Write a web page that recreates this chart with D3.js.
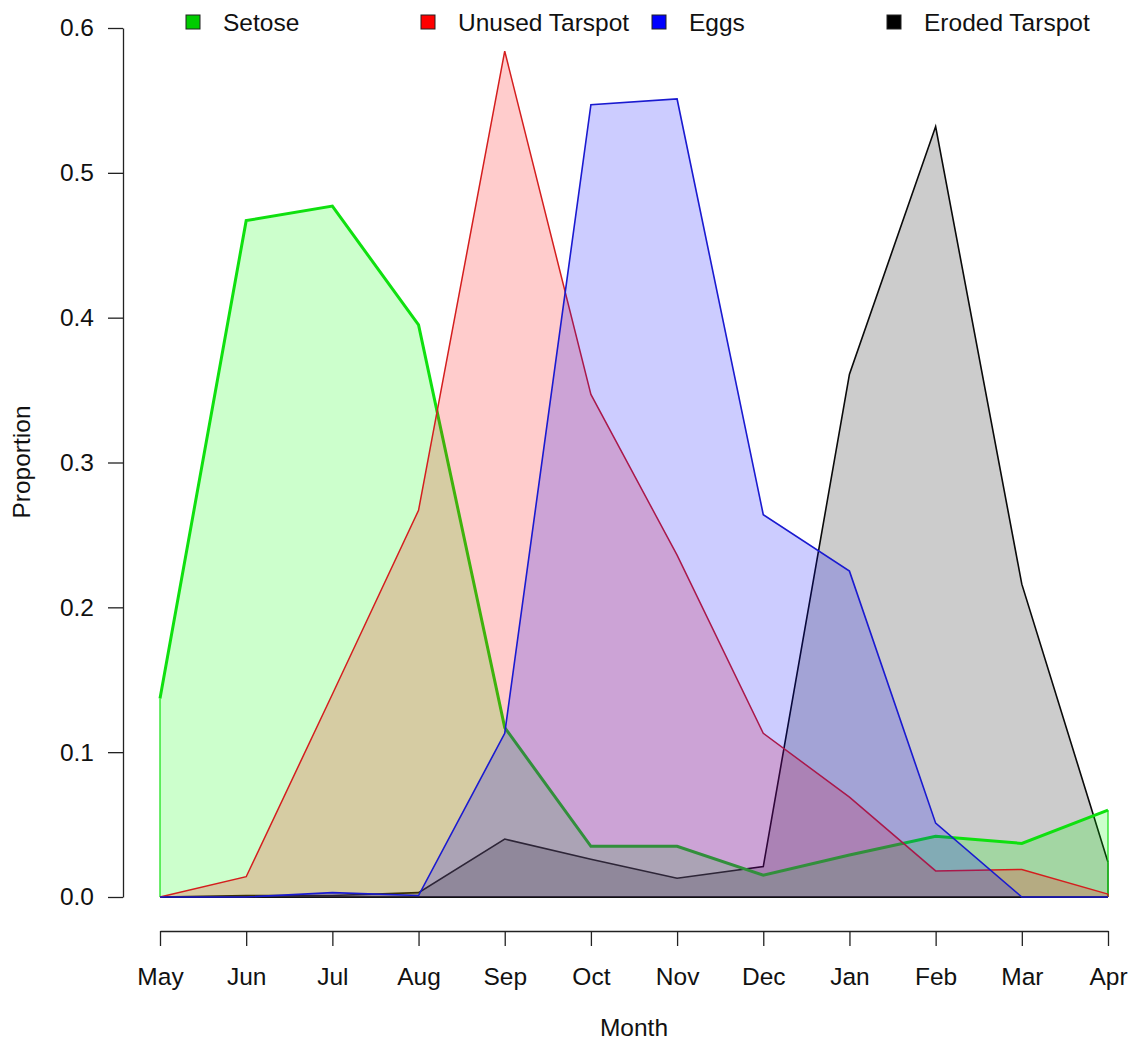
<!DOCTYPE html>
<html>
<head>
<meta charset="utf-8">
<script src="https://cdn.jsdelivr.net/npm/d3@7"></script>
<style>
  html, body { margin: 0; padding: 0; background: #fff; }
  svg { display: block; font-family: "Liberation Sans", Arial, sans-serif; }
</style>
</head>
<body>
<svg id="chart" width="1130" height="1043"></svg>
<script>
// Monthly proportions of each stage
const months = ["May", "Jun", "Jul", "Aug", "Sep", "Oct", "Nov", "Dec", "Jan", "Feb", "Mar", "Apr"];
const setose = [0.137, 0.467, 0.477, 0.395, 0.117, 0.035, 0.035, 0.015, 0.029, 0.042, 0.037, 0.060];
const unusedTarspot = [0.000, 0.014, 0.140, 0.267, 0.584, 0.347, 0.236, 0.113, 0.069, 0.018, 0.019, 0.002];
const eggs = [0.000, 0.000, 0.003, 0.001, 0.113, 0.547, 0.551, 0.264, 0.225, 0.051, 0.000, 0.000];
const erodedTarspot = [0.000, 0.001, 0.001, 0.003, 0.040, 0.026, 0.013, 0.021, 0.361, 0.532, 0.216, 0.024];
const yTicks = [0, 0.1, 0.2, 0.3, 0.4, 0.5, 0.6];

const legendNames = ["Setose", "Unused Tarspot", "Eggs", "Eroded Tarspot"];

const svg = d3.select("#chart");
const fontSize = 24.5;

const x = d3.scalePoint().domain(months).range([160, 1108]);
const y = d3.scaleLinear().domain([0, 0.6]).range([897, 28]);

// series in painting order (eroded underneath)
const series = [
  { name: "Eroded Tarspot", values: erodedTarspot, fill: "rgba(0,0,0,0.2)", line: "#0a0a0a", width: 1.6 },
  { name: "Setose", values: setose, fill: "rgba(0,255,0,0.2)", line: "#0fe00f", width: 3 },
  { name: "Unused Tarspot", values: unusedTarspot, fill: "rgba(255,0,0,0.2)", line: "#d41e1e", width: 1.5 },
  { name: "Eggs", values: eggs, fill: "rgba(0,0,255,0.2)", line: "#1a1ad0", width: 1.6 }
];

const area = d3.area()
  .x((d, i) => x(months[i]))
  .y0(y(0))
  .y1(d => y(d));

const line = d3.line()
  .x((d, i) => x(months[i]))
  .y(d => y(d));

const plot = svg.append("g");

series.forEach((s, k) => {
  plot.append("path")
    .attr("d", area(s.values))
    .attr("fill", s.fill)
    .attr("stroke", "none");

  // thin side edges of the shaded region
  const first = s.values[0], last = s.values[s.values.length - 1];
  plot.append("line")
    .attr("x1", x(months[0])).attr("x2", x(months[0]))
    .attr("y1", y(0)).attr("y2", y(first))
    .attr("stroke", s.line).attr("stroke-width", 1.2);
  plot.append("line")
    .attr("x1", x(months[months.length - 1])).attr("x2", x(months[months.length - 1]))
    .attr("y1", y(0)).attr("y2", y(last))
    .attr("stroke", s.line).attr("stroke-width", 1.2);

  if (k === 0) {
    // baseline at zero
    plot.append("line")
      .attr("x1", x(months[0])).attr("x2", x(months[months.length - 1]))
      .attr("y1", y(0)).attr("y2", y(0))
      .attr("stroke", "#111").attr("stroke-width", 1.8);
  }

  plot.append("path")
    .attr("d", line(s.values))
    .attr("fill", "none")
    .attr("stroke", s.line)
    .attr("stroke-width", s.width)
    .attr("stroke-linejoin", "miter");
});

// y axis
const yAxis = d3.axisLeft(y)
  .tickValues(yTicks)
  .tickFormat(d3.format(".1f"))
  .tickSize(15)
  .tickPadding(14)
  .tickSizeOuter(0);
const gy = svg.append("g").attr("transform", "translate(123,0)").call(yAxis);
gy.select(".domain").attr("stroke", "#222").attr("stroke-width", 1.3);
gy.selectAll(".tick line").attr("stroke", "#222").attr("stroke-width", 1.3);
gy.selectAll(".tick text").attr("font-size", fontSize).attr("fill", "#111")
  .attr("font-family", "Liberation Sans, Arial, sans-serif");

// x axis
const xAxis = d3.axisBottom(x)
  .tickSize(15)
  .tickPadding(22)
  .tickSizeOuter(0);
const gx = svg.append("g").attr("transform", "translate(0,931)").call(xAxis);
gx.select(".domain").attr("stroke", "#222").attr("stroke-width", 1.3);
gx.selectAll(".tick line").attr("stroke", "#222").attr("stroke-width", 1.3);
gx.selectAll(".tick text").attr("font-size", fontSize).attr("fill", "#111")
  .attr("font-family", "Liberation Sans, Arial, sans-serif");

// axis titles
svg.append("text")
  .attr("x", 634).attr("y", 1036)
  .attr("text-anchor", "middle")
  .attr("font-size", fontSize).attr("fill", "#111")
  .text("Month");

svg.append("text")
  .attr("transform", "translate(30,462) rotate(-90)")
  .attr("text-anchor", "middle")
  .attr("font-size", fontSize).attr("fill", "#111")
  .text("Proportion");

// legend
const legendColors = ["#00cc00", "#ff0000", "#0000ff", "#000000"];
const legendX = [193, 428, 659, 894];
const legend = svg.append("g");
legendNames.forEach((name, i) => {
  legend.append("rect")
    .attr("x", legendX[i] - 7).attr("y", 15)
    .attr("width", 14).attr("height", 14)
    .attr("fill", legendColors[i])
    .attr("stroke", "#222").attr("stroke-width", 1);
  legend.append("text")
    .attr("x", legendX[i] + 30).attr("y", 31)
    .attr("font-size", fontSize).attr("fill", "#111")
    .text(name);
});
</script>
</body>
</html>
